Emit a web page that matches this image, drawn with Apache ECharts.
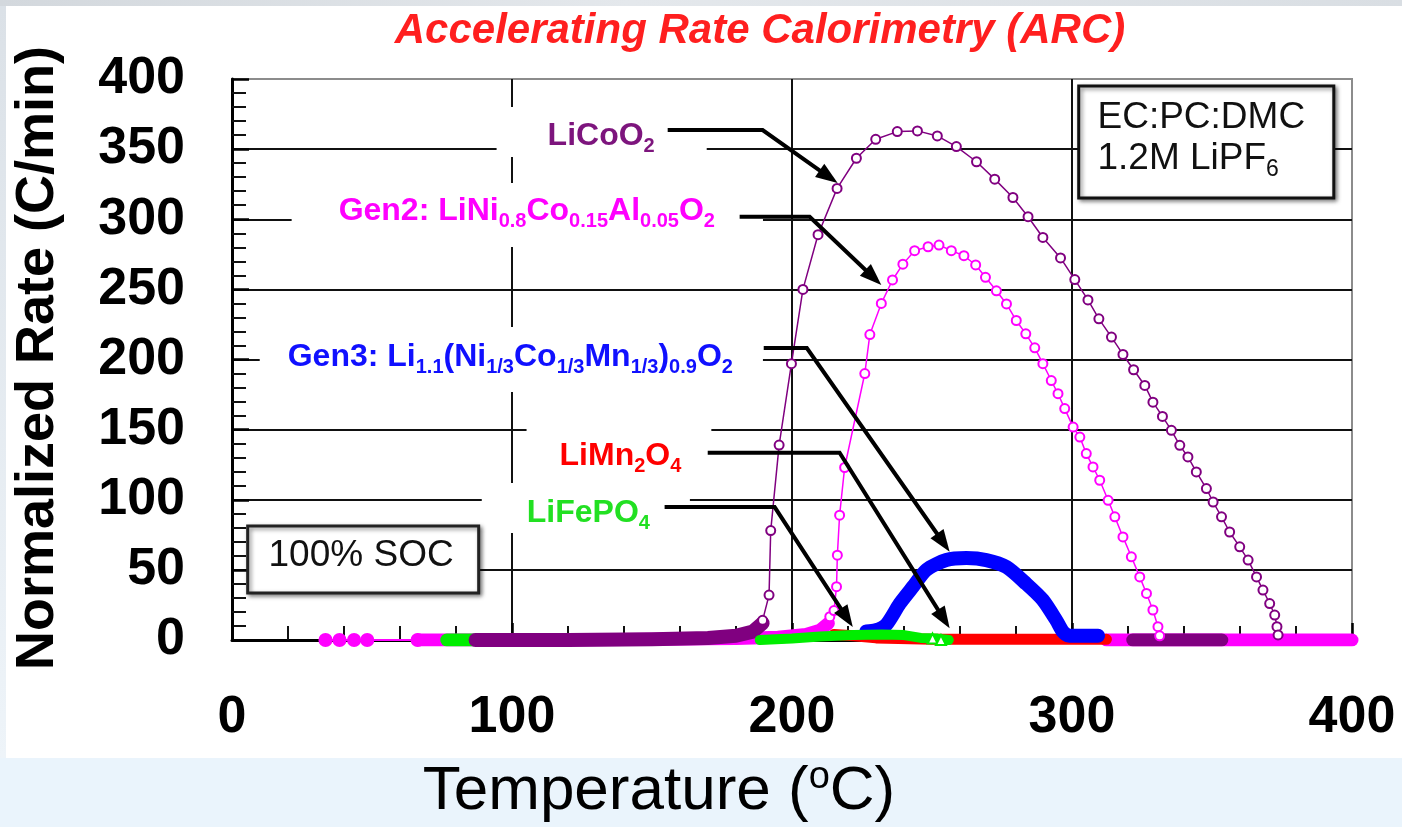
<!DOCTYPE html>
<html>
<head>
<meta charset="utf-8">
<script src="https://cdn.jsdelivr.net/npm/echarts@6/dist/echarts.min.js"></script>
<style>
  html, body { margin: 0; padding: 0; width: 1402px; height: 827px; overflow: hidden; background: #eaf4fc; }
  #topband { position: absolute; left: 0; top: 0; width: 1402px; height: 6px; background: linear-gradient(to right, #d3d8dd, #e4e8ec 45%, #d9dee3); }
  #leftband { position: absolute; left: 0; top: 6px; width: 6px; height: 752px; background: linear-gradient(to bottom, #dbe1e7, #eef4f9); }
  #panel { position: absolute; left: 6px; top: 6px; width: 1396px; height: 752px; background: #ffffff; }
  #chart { position: absolute; left: 0; top: 0; width: 1402px; height: 827px; }
</style>
</head>
<body>
<div id="topband"></div>
<div id="leftband"></div>
<div id="panel"></div>
<div id="chart"></div>
<script>
// ---- axis ticks ----
const temperatureTicks = [0, 100, 200, 300, 400];
const temperatureLabels = ['0', '100', '200', '300', '400'];
const rateTicks = [0, 50, 100, 150, 200, 250, 300, 350, 400];
const rateLabels = ['0', '50', '100', '150', '200', '250', '300', '350', '400'];

// ---- measured data: [temperature (C), normalized rate (C/min)] ----
// LiCoO2
const licoo2Baseline = [[87, 0], [120, 0], [150, 0.5], [170, 1.5], [180, 3], [186, 6], [189.5, 12]];
const licoo2Rate = [[189.5, 14], [191.8, 32], [192.4, 78], [195.4, 139], [199.8, 197], [203.9, 250], [209.3, 289],
  [216.1, 322], [223, 343.5], [229.9, 357], [237.6, 362.5], [244.8, 363], [251.9, 359.4], [258.7, 351.8],
  [265.9, 341], [272.4, 328.6], [278.9, 315.5], [284.3, 301.8], [289.6, 287], [295.9, 272.4], [301, 257],
  [305.7, 242.5], [309.6, 229], [314.1, 216], [318.2, 203.6], [322, 192.7], [326, 181.5], [328.9, 169.6],
  [332.3, 159.4], [335.5, 149.5], [338.5, 138.8], [341.4, 130.5], [344.4, 119.8], [348, 108], [350.4, 98.4],
  [353.4, 87.8], [356.3, 77], [359.9, 66.4], [362.9, 57], [365.9, 45], [368.2, 35.6], [370.6, 26],
  [372.4, 17.8], [373.2, 9.5], [373.6, 3.6]];
const licoo2Tail = [[321.7, 0], [353.5, 0]];

// Gen2: LiNi0.8Co0.15Al0.05O2
const gen2Lead = [[33.4, 0], [38.4, 0], [43.6, 0], [48.3, 0], [66.3, 0]];
const gen2Baseline = [[66.3, 0], [120, 0], [180, 1], [195, 2], [205, 4], [210, 7], [213, 12]];
const gen2Rate = [[213.5, 16.6], [215, 21], [215.9, 38], [216.2, 60.5], [217, 89], [218.8, 123], [226, 190],
  [227.8, 217.8], [231.9, 240], [235.9, 256.7], [239.6, 268], [243.8, 277.6], [248.6, 280.4], [252.5, 281.6],
  [256.9, 277.6], [261.4, 274], [265.6, 267.4], [269.1, 258.6], [273, 249], [276.6, 239.6], [280.1, 227.8],
  [283.5, 218.3], [286.7, 208.3], [289.6, 197], [292.6, 185], [295, 175.6], [297.4, 165], [300.4, 151.8],
  [302.8, 144.7], [305.1, 132.9], [307.5, 123.4], [309.9, 113.9], [312.9, 99.6], [315.3, 87.8], [318.2, 73.5],
  [321.2, 59.3], [324.2, 45], [326.6, 33.2], [328.9, 21.4], [330.7, 9.5], [331.3, 3]];
const gen2Tail = [[312.3, 0], [400, 0]];

// Gen3: Li1.1(Ni1/3Co1/3Mn1/3)0.9O2
const gen3Rate = [[226.5, 6], [230, 7], [233.7, 11], [238.5, 26], [243.2, 38], [248, 50], [255.1, 57],
  [262.3, 58.4], [269.4, 57], [276.6, 52], [283.7, 40], [289.6, 28.5], [294.4, 14], [296.7, 6], [299, 3], [309.3, 3]];

// LiMn2O4
const limn2o4Rate = [[215, 4], [222, 3], [230, 1.5], [250, 0.5], [312.3, 0.5]];

// LiFePO4
const lifepo4Lead = [[76.7, 0], [87, 0]];
const lifepo4Rate = [[188.5, 0], [200, 1], [210, 2.5], [222, 3.5], [232, 4], [240, 3.5], [246, 1.5], [252, 1], [256, 0]];
const lifepo4Marks = [[250.2, 1], [253.2, 0]];

// ---- styling ----
const FONT = "'Liberation Sans', Arial, Helvetica, sans-serif";
const C_PURPLE = '#800080';
const C_MAGENTA = '#ff00ff';
const C_BLUE = '#0000ff';
const C_RED = '#ff0000';
const C_GREEN = '#00ee00';

function band(name, data, color, width, smooth) {
  return {
    name, type: 'line', data, symbol: 'none', silent: true, smooth: smooth || false,
    lineStyle: { color, width, cap: 'round', join: 'round' },
    itemStyle: { color }, emphasis: { disabled: true }
  };
}
function markers(name, data, color, symbol, size, lineWidth) {
  return {
    name, type: 'line', data, symbol, symbolSize: size, silent: true,
    lineStyle: { color, width: lineWidth },
    itemStyle: { color, borderColor: color, borderWidth: 2.2 },
    emphasis: { disabled: true }
  };
}

const axisCommon = {
  type: 'value',
  axisLine: { show: true, onZero: false, lineStyle: { color: '#000', width: 3 } },
  axisTick: { show: true, inside: true, length: 17, lineStyle: { color: '#000', width: 2.5 } },
  minorTick: { show: true, splitNumber: 5, length: 14, lineStyle: { color: '#111', width: 2 } },
  splitLine: { show: true, showMinLine: false, showMaxLine: false, lineStyle: { color: '#111', width: 2 } }
};

const option = {
  animation: false,
  backgroundColor: 'transparent',
  grid: { left: 232, top: 79, right: 50, bottom: 187, show: true, borderColor: '#8c8c8c', borderWidth: 2 },
  xAxis: Object.assign({}, axisCommon, {
    min: temperatureTicks[0],
    max: temperatureTicks[temperatureTicks.length - 1],
    interval: temperatureTicks[1] - temperatureTicks[0],
    axisLabel: {
      color: '#000', fontSize: 52, fontWeight: 'bold', fontFamily: FONT, margin: 52,
      formatter: v => { const i = temperatureTicks.indexOf(v); return i < 0 ? '' : temperatureLabels[i]; }
    }
  }),
  yAxis: Object.assign({}, axisCommon, {
    min: rateTicks[0],
    max: rateTicks[rateTicks.length - 1],
    interval: rateTicks[1] - rateTicks[0],
    axisLabel: {
      color: '#000', fontSize: 52, fontWeight: 'bold', fontFamily: FONT, margin: 47,
      formatter: v => { const i = rateTicks.indexOf(v); return i < 0 ? '' : rateLabels[i]; }
    }
  }),
  series: [
    markers('Gen2 lead', gen2Lead, C_MAGENTA, 'circle', 12, 2),
    band('Gen2 baseline', gen2Baseline, C_MAGENTA, 13),
    band('Gen2 tail', gen2Tail, C_MAGENTA, 13),
    band('LiFePO4 lead', lifepo4Lead, C_GREEN, 13),
    band('LiCoO2 baseline', licoo2Baseline, C_PURPLE, 14),
    band('LiCoO2 tail', licoo2Tail, C_PURPLE, 13),
    band('LiMn2O4', limn2o4Rate, C_RED, 11),
    band('Gen3', gen3Rate, C_BLUE, 14, 0.25),
    band('LiFePO4', lifepo4Rate, C_GREEN, 10),
    markers('LiFePO4 marks', lifepo4Marks, C_GREEN, 'emptyTriangle', 10, 0),
    markers('Gen2', gen2Rate, C_MAGENTA, 'emptyCircle', 9, 1.5),
    markers('LiCoO2', licoo2Rate, C_PURPLE, 'emptyCircle', 9, 1.5)
  ]
};

const chart = echarts.init(document.getElementById('chart'), null, { renderer: 'canvas' });
chart.setOption(option);

// ---- annotations (placed in data units, converted through the grid) ----
const px = p => chart.convertToPixel({ gridIndex: 0 }, p);

function richFor(color) {
  return {
    m: { fill: color, fontSize: 32, fontWeight: 'bold', fontFamily: FONT, lineHeight: 40, verticalAlign: 'middle' },
    s: { fill: color, fontSize: 20, fontWeight: 'bold', fontFamily: FONT, lineHeight: 22, verticalAlign: 'bottom' }
  };
}

const callouts = [
  { text: '{m|LiCoO}{s|2}', color: '#7d157d', box: [94.5, 362.2], padding: [9, 52, 1, 51],
    path: [[155.6, 363.6], [189.5, 363.6], [216.3, 325.8]] },
  { text: '{m|Gen2: LiNi}{s|0.8}{m|Co}{s|0.15}{m|Al}{s|0.05}{m|O}{s|2}', color: C_MAGENTA, box: [21.3, 303.0], padding: [8, 48, 16, 47],
    path: [[181.3, 301.8], [206.3, 301.8], [231.9, 253.1]] },
  { text: '{m|Gen3: Li}{s|1.1}{m|(Ni}{s|1/3}{m|Co}{s|1/3}{m|Mn}{s|1/3}{m|)}{s|0.9}{m|O}{s|2}', color: '#1010ff', box: [9.9, 200.0], padding: [10, 30, 15, 28],
    path: [[189.9, 208.2], [205.3, 208.2], [256.3, 63.0]] },
  { text: '{m|LiMn}{s|2}{m|O}{s|4}', color: C_RED, box: [105.2, 133.7], padding: [11, 30, 4, 33],
    path: [[169.9, 133.5], [217.0, 133.5], [256.3, 8.3]] },
  { text: '{m|LiFePO}{s|4}', color: '#22e022', box: [89.2, 94.1], padding: [10, 40, 0, 45],
    path: [[154.5, 94.8], [193.8, 94.8], [221.7, 9.3]] }
];

const graphics = [];

callouts.forEach(c => {
  const b = px(c.box);
  graphics.push({
    type: 'text', x: b[0], y: b[1], z: 5, silent: true,
    style: { text: c.text, rich: richFor(c.color), backgroundColor: '#ffffff', padding: c.padding,
      align: 'left', verticalAlign: 'middle', textAlign: 'left', textVerticalAlign: 'middle' }
  });
  const pts = c.path.map(px);
  const a = pts[pts.length - 2], tip = pts[pts.length - 1];
  const dx = tip[0] - a[0], dy = tip[1] - a[1], len = Math.hypot(dx, dy);
  const ux = dx / len, uy = dy / len;
  const headLen = 22, headHalf = 8;
  const base = [tip[0] - ux * headLen, tip[1] - uy * headLen];
  const linePts = pts.slice(0, -1).concat([[base[0] + ux * 2, base[1] + uy * 2]]);
  graphics.push({
    type: 'polyline', z: 6, silent: true, shape: { points: linePts },
    style: { stroke: '#000', lineWidth: 4, fill: null, lineJoin: 'miter' }
  });
  graphics.push({
    type: 'polygon', z: 6, silent: true,
    shape: { points: [tip, [base[0] - uy * headHalf, base[1] + ux * headHalf], [base[0] + uy * headHalf, base[1] - ux * headHalf]] },
    style: { fill: '#000' }
  });
});

// Electrolyte box
(function () {
  const tl = px([302.4, 395.0]), br = px([393.5, 315.2]);
  graphics.push({
    type: 'rect', z: 5, silent: true,
    shape: { x: tl[0], y: tl[1], width: br[0] - tl[0], height: br[1] - tl[1] },
    style: { fill: '#fff', stroke: '#111', lineWidth: 3, shadowBlur: 4, shadowColor: 'rgba(0,0,0,0.45)', shadowOffsetX: 2, shadowOffsetY: 2 }
  });
  const l1 = px([309.1, 372.2]), l2 = px([309.1, 343.0]);
  graphics.push({
    type: 'text', z: 6, silent: true, x: l1[0], y: l1[1],
    style: { text: 'EC:PC:DMC', fill: '#111', font: '37px ' + FONT, align: 'left', verticalAlign: 'middle', textAlign: 'left', textVerticalAlign: 'middle' }
  });
  graphics.push({
    type: 'text', z: 6, silent: true, x: l2[0], y: l2[1],
    style: { text: '{m|1.2M LiPF}{s|6}', align: 'left', verticalAlign: 'middle', textAlign: 'left', textVerticalAlign: 'middle',
      rich: {
        m: { fill: '#111', fontSize: 37, fontFamily: FONT, lineHeight: 44, verticalAlign: 'middle' },
        s: { fill: '#111', fontSize: 23, fontFamily: FONT, lineHeight: 24, verticalAlign: 'bottom' }
      } }
  });
})();

// State-of-charge box
(function () {
  const tl = px([5.6, 81.3]), br = px([88.1, 33.5]);
  graphics.push({
    type: 'rect', z: 5, silent: true,
    shape: { x: tl[0], y: tl[1], width: br[0] - tl[0], height: br[1] - tl[1] },
    style: { fill: '#fff', stroke: '#222', lineWidth: 3, shadowBlur: 4, shadowColor: 'rgba(0,0,0,0.45)', shadowOffsetX: 2, shadowOffsetY: 2 }
  });
  const c = px([46.1, 59.9]);
  graphics.push({
    type: 'text', z: 6, silent: true, x: c[0], y: c[1],
    style: { text: '100% SOC', fill: '#111', font: '37px ' + FONT, align: 'center', verticalAlign: 'middle', textAlign: 'center', textVerticalAlign: 'middle' }
  });
})();

// Title and axis names
graphics.push({
  type: 'text', z: 6, silent: true, x: 760, y: 31,
  style: { text: 'Accelerating Rate Calorimetry (ARC)', fill: '#ff1f1f', font: 'italic bold 42px ' + FONT,
    align: 'center', verticalAlign: 'middle', textAlign: 'center', textVerticalAlign: 'middle' }
});
graphics.push({
  type: 'text', z: 6, silent: true, x: 38, y: 358, rotation: Math.PI / 2,
  style: { text: 'Normalized Rate (C/min)', fill: '#000', font: 'bold 54px ' + FONT,
    align: 'center', verticalAlign: 'middle', textAlign: 'center', textVerticalAlign: 'middle' }
});
graphics.push({
  type: 'text', z: 6, silent: true, x: 659, y: 792,
  style: { text: '{m|Temperature (}{o|o}{m|C)}', align: 'center', verticalAlign: 'middle', textAlign: 'center', textVerticalAlign: 'middle',
    rich: {
      m: { fill: '#000', fontSize: 62, fontFamily: FONT, lineHeight: 66, verticalAlign: 'middle' },
      o: { fill: '#000', fontSize: 38, fontFamily: FONT, lineHeight: 40, verticalAlign: 'top' }
    } }
});

chart.setOption({ graphic: { elements: graphics } });
</script>
</body>
</html>
